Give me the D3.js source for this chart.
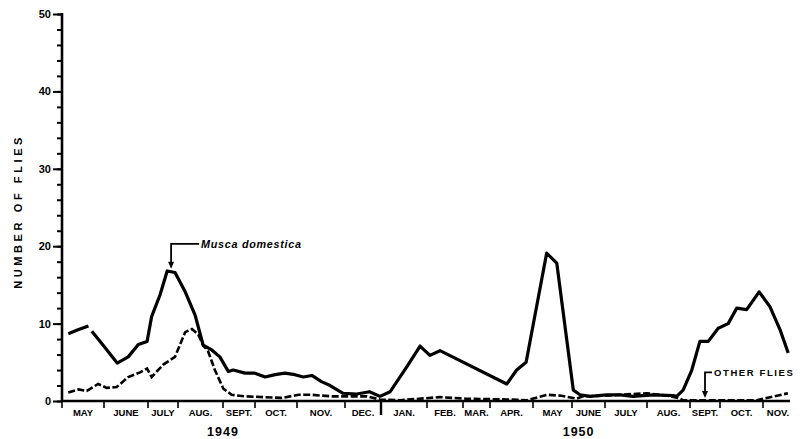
<!DOCTYPE html>
<html>
<head>
<meta charset="utf-8">
<script src="https://cdn.jsdelivr.net/npm/d3@7"></script>
<style>
    body { margin: 0; background: #fff; }
    svg { display: block; }
    text { font-family: "Liberation Sans", Arial, sans-serif; font-weight: bold; fill: #000; }
</style>
</head>
<body>
<svg width="803" height="439"></svg>
<script>
// month labels, May 1949 .. Nov 1950
var months = ["MAY", "JUNE", "JULY", "AUG.", "SEPT.", "OCT.", "NOV.", "DEC.", "JAN.", "FEB.",
    "MAR.", "APR.", "MAY", "JUNE", "JULY", "AUG.", "SEPT.", "OCT.", "NOV."];
var years = ["1949", "1950"];
var yearAt = [4.0, 13.2];   // month position of the year label

// Musca domestica (solid), x in months since 1 May 1949, null = gap in the line
var muscaX = [0.15, 0.38, 0.63, 0.67, 0.71, 0.98, 1.30, 1.55, 1.78, 1.98, 2.12, 2.40, 2.64, 2.90,
    3.16, 3.38, 3.56, 3.75, 3.93, 4.17, 4.32, 4.69, 5.00, 5.24, 5.48, 5.71, 5.95, 6.13, 6.31,
    6.51, 6.69, 6.96, 7.33, 7.68, 7.97, 8.20, 8.56, 8.85, 9.08, 9.36, 11.39, 11.62, 11.84,
    12.35, 12.61, 13.04, 13.24, 13.55, 14.04, 14.36, 14.67, 15.14, 15.60, 15.69, 15.84, 16.06,
    16.33, 16.61, 16.94, 17.19, 17.39, 17.62, 17.91, 18.23, 18.57, 18.84];
var muscaY = [8.7, 9.2, 9.7, null, 9.0, 7.2, 4.9, 5.7, 7.3, 7.7, 10.9, 13.7, 16.8, 16.6,
    14.1, 11.1, 7.2, 6.6, 5.7, 3.8, 4.0, 3.6, 3.6, 3.1, 3.4, 3.6, 3.4, 3.1, 3.3,
    2.5, 2.0, 1.0, 0.9, 1.2, 0.6, 1.2, 4.4, 7.1, 5.9, 6.5, 2.2, 4.0, 5.0,
    19.1, 17.8, 1.4, 0.8, 0.6, 0.8, 0.8, 0.6, 0.8, 0.7, 0.6, 1.4, 4.0,
    7.7, 7.7, 9.4, 10.0, 12.0, 11.8, 14.1, 12.2, 9.2, 6.2];

// other flies (dashed)
var otherX = [0.15, 0.39, 0.59, 0.86, 1.06, 1.29, 1.55, 1.82, 1.98, 2.12, 2.51, 2.90, 3.04, 3.16,
    3.31, 3.45, 3.56, 3.67, 3.82, 4.01, 4.27, 4.69, 5.64, 6.03, 6.31, 6.72, 7.61, 7.97, 8.41,
    9.36, 10.11, 11.40, 11.86, 12.36, 12.69, 13.14, 13.33, 14.04, 14.99, 15.46, 15.72, 15.84,
    16.56, 17.85, 18.83];
var otherY = [1.1, 1.5, 1.3, 2.2, 1.7, 1.8, 3.1, 3.7, 4.2, 3.1, 4.7, 5.7, 7.2, 8.9,
    9.3, 8.6, 7.2, 6.4, 4.0, 1.6, 0.8, 0.6, 0.4, 0.8, 0.8, 0.6, 0.6, 0.2, 0.1,
    0.5, 0.3, 0.2, 0.1, 0.8, 0.7, 0.3, 0.6, 0.7, 1.0, 0.7, 0.4, 0.1,
    0.1, 0.1, 1.0];

// layout: the printed month widths are uneven, so the x scale is piecewise
var monthWidths = [42, 44, 30, 45, 32, 42, 48, 36, 46, 36, 27, 43, 39, 33, 42, 43, 30, 43, 30];
var plotLeft = 62, plotTop = 14, plotBottom = 401;

var xRange = [plotLeft];
monthWidths.forEach(w => xRange.push(xRange[xRange.length - 1] + w));
var xScale = d3.scaleLinear().domain(d3.range(months.length + 1)).range(xRange);
var yScale = d3.scaleLinear().domain([0, 50]).range([plotBottom, plotTop]);

var svg = d3.select("svg");

// Y axis, minor and major ticks
svg.append("g")
    .attr("transform", "translate(" + plotLeft + ",0)")
    .call(d3.axisLeft(yScale).tickValues(d3.range(0, 51, 2)).tickSize(5).tickFormat(""))
    .call(g => g.select(".domain").remove())
    .selectAll("line").attr("stroke-width", 2);

svg.append("g")
    .attr("transform", "translate(" + plotLeft + ",0)")
    .call(d3.axisLeft(yScale).tickValues(d3.range(0, 51, 10)).tickSize(9).tickPadding(2))
    .call(g => g.select(".domain").remove())
    .call(g => g.selectAll("line").attr("stroke-width", 2))
    .call(g => g.selectAll("text").attr("font-size", 11).attr("font-family", null));

svg.append("line")
    .attr("x1", plotLeft).attr("x2", plotLeft)
    .attr("y1", plotTop - 1).attr("y2", plotBottom + 1)
    .attr("stroke", "black").attr("stroke-width", 2.6);

// X axis
svg.append("line")
    .attr("x1", plotLeft).attr("x2", xScale(months.length) - 3)
    .attr("y1", plotBottom).attr("y2", plotBottom)
    .attr("stroke", "black").attr("stroke-width", 2.6);

svg.append("g")
    .selectAll("line")
    .data(d3.range(months.length))
    .join("line")
    .attr("x1", d => xScale(d)).attr("x2", d => xScale(d))
    .attr("y1", plotBottom)
    .attr("y2", d => d === 8 ? plotBottom + 14 : plotBottom + 7)
    .attr("stroke", "black")
    .attr("stroke-width", d => d === 8 ? 2.4 : 1.6);

svg.append("g")
    .selectAll("text")
    .data(months)
    .join("text")
    .attr("x", (d, i) => xScale(i + 0.5))
    .attr("y", plotBottom + 14.5)
    .attr("text-anchor", "middle")
    .attr("font-size", 9.5)
    .text(d => d);

svg.append("g")
    .selectAll("text")
    .data(years)
    .join("text")
    .attr("x", (d, i) => xScale(yearAt[i]))
    .attr("y", 436)
    .attr("text-anchor", "middle")
    .attr("font-size", 12.5)
    .attr("letter-spacing", 1)
    .text(d => d);

svg.append("text")
    .attr("transform", "translate(22," + yScale(24.5) + ") rotate(-90)")
    .attr("text-anchor", "middle")
    .attr("font-size", 11)
    .attr("letter-spacing", 3.6)
    .text("NUMBER OF FLIES");

// Lines
var musca = muscaX.map((x, i) => [x, muscaY[i]]);
var other = otherX.map((x, i) => [x, otherY[i]]);

var line = d3.line()
    .defined(d => d[1] !== null)
    .x(d => xScale(d[0]))
    .y(d => yScale(d[1]));

svg.append("path")
    .attr("d", line(other))
    .attr("fill", "none")
    .attr("stroke", "black")
    .attr("stroke-width", 2.6)
    .attr("stroke-dasharray", "7,2.5");

svg.append("path")
    .attr("d", line(musca))
    .attr("fill", "none")
    .attr("stroke", "black")
    .attr("stroke-width", 3.2)
    .attr("stroke-linejoin", "round");

// Annotations
function callout(mx, tipValue, topValue, leg, label, size, italic, spacing) {
    var x = xScale(mx), y0 = yScale(topValue), y1 = yScale(tipValue);
    svg.append("path")
        .attr("d", "M" + (x + leg) + "," + y0 + "H" + x + "V" + (y1 - 5))
        .attr("fill", "none").attr("stroke", "black").attr("stroke-width", 1.8);
    svg.append("path")
        .attr("d", "M" + (x - 3) + "," + (y1 - 7) + "L" + (x + 3) + "," + (y1 - 7) + "L" + x + "," + y1 + "Z")
        .attr("fill", "black");
    svg.append("text")
        .attr("x", x + leg + 2).attr("y", y0 + 4)
        .attr("font-size", size)
        .attr("font-style", italic ? "italic" : null)
        .attr("letter-spacing", spacing)
        .text(label);
}

callout(2.77, 17.1, 20.3, 28, "Musca domestica", 10.8, true, 0.7);
callout(16.5, 0.4, 3.7, 7, "OTHER FLIES", 9.5, false, 1.6);
</script>
</body>
</html>
